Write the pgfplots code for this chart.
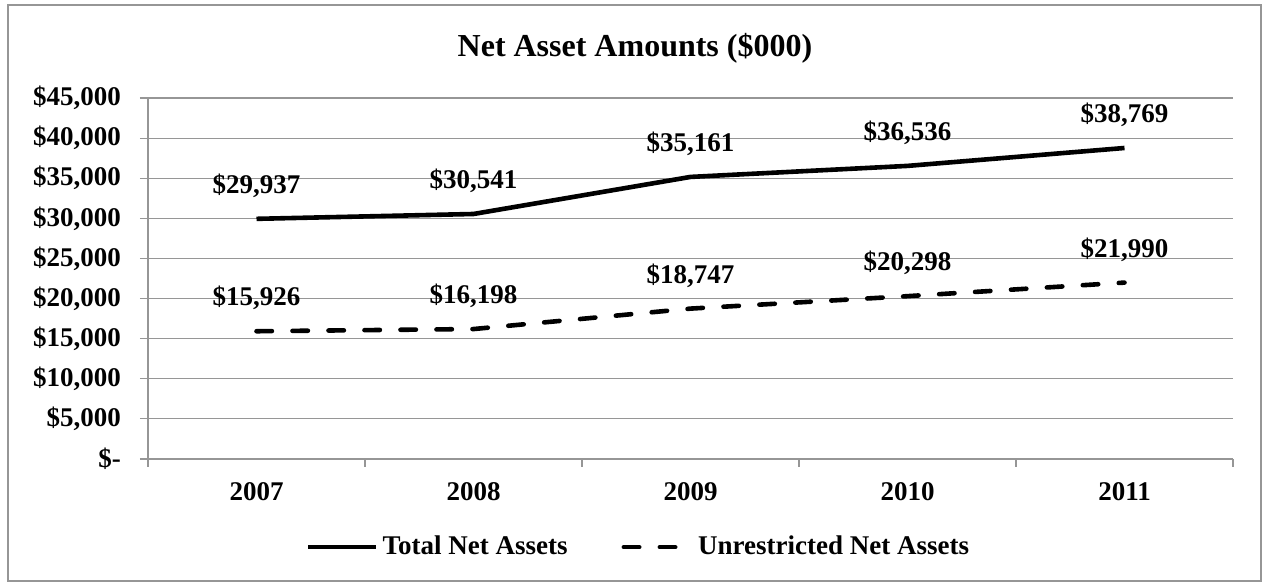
\documentclass[border=0pt]{standalone}
\usepackage{fontspec}
\setmainfont{Liberation Serif}
\usepackage{pgfplots}
\pgfplotsset{compat=1.18}
\definecolor{gridc}{RGB}{150,150,150}
\newcommand{\lbl}{\bfseries\fontsize{13.5}{16}\selectfont}
\begin{document}
\begin{tikzpicture}
\useasboundingbox (-74pt,-61.5pt) rectangle (557pt,229.5pt);
\draw[gridc, line width=0.8pt] (-70pt,-61pt) rectangle (556.5pt,227pt);
\node[font=\bfseries\fontsize{16}{19}\selectfont] at (243.5pt,205.5pt) {Net Asset Amounts (\$000)};
\begin{axis}[
  scale only axis, width=542.5pt, height=180.5pt,
  at={(0,0)}, anchor=south west,
  xmin=-0.5, xmax=4.5, ymin=0, ymax=45000,
  axis x line=bottom, axis y line=left,
  axis line style={gridc, line width=0.6pt, -},
  xtick={0,1,2,3,4}, xticklabels={2007,2008,2009,2010,2011},
  minor xtick={-0.5,0.5,1.5,2.5,3.5,4.5},
  tick align=outside,
  major tick length=4pt, minor tick length=4pt,
  tick style={gridc, line width=0.6pt},
  major x tick style={draw=none},
  scaled y ticks=false,
  ytick={0,5000,10000,15000,20000,25000,30000,35000,40000,45000},
  yticklabels={{\$-},{\$5,000},{\$10,000},{\$15,000},{\$20,000},{\$25,000},{\$30,000},{\$35,000},{\$40,000},{\$45,000}},
  ymajorgrids, major grid style={gridc, line width=0.6pt},
  every tick label/.append style={font=\lbl, text=black},
  xticklabel style={anchor=north, yshift=-4pt},
  yticklabel style={anchor=east, xshift=-6pt},
  legend style={at={(0.453,-0.244)}, anchor=center, draw=none, fill=none,
    font=\lbl, legend columns=2,
    /tikz/every even column/.append style={column sep=25pt}},
  legend image code/.code={\draw[#1] (0pt,0pt) -- (34pt,0pt);},
  clip=false,
]
\addplot[black, line width=2.3pt, line join=round,
  nodes near coords, point meta=explicit symbolic,
  every node near coord/.style={anchor=center, yshift=16.5pt, font=\lbl, text=black}]
  coordinates {(0,29937)[\$29,937] (1,30541)[\$30,541] (2,35161)[\$35,161] (3,36536)[\$36,536] (4,38769)[\$38,769]};
\addlegendentry{Total Net Assets}
\addplot[black, line width=2.3pt, line cap=round, dash pattern=on 7.7pt off 10.3pt,
  nodes near coords, point meta=explicit symbolic,
  every node near coord/.style={anchor=center, yshift=16.5pt, font=\lbl, text=black}]
  coordinates {(0,15926)[\$15,926] (1,16198)[\$16,198] (2,18747)[\$18,747] (3,20298)[\$20,298] (4,21990)[\$21,990]};
\addlegendentry{Unrestricted Net Assets}
\end{axis}
\end{tikzpicture}
\end{document}
